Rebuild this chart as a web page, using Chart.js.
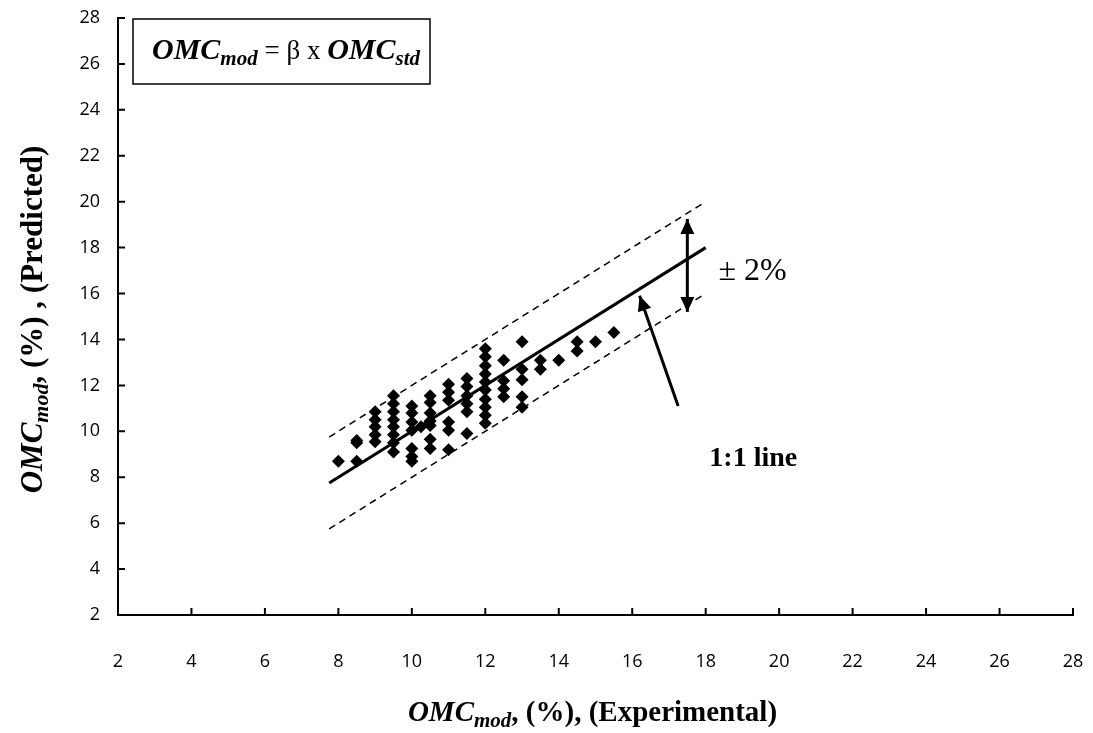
<!DOCTYPE html>
<html>
<head>
<meta charset="utf-8">
<script src="https://cdn.jsdelivr.net/npm/chart.js@4"></script>
<style>
  body { margin: 0; background: #fff; }
  canvas { display: block; }
</style>
</head>
<body>
<canvas id="omc_chart" width="1093" height="733"></canvas>
<script>
// axis ticks
const tickValues = [2, 4, 6, 8, 10, 12, 14, 16, 18, 20, 22, 24, 26, 28];

// experimental OMC values (one entry per column of points)
const columnX = [8, 8.5, 9, 9.5, 10, 10.25, 10.5, 11, 11.5, 12, 12.5, 13, 13.5, 14, 14.5, 15, 15.5];
// predicted OMC values for each column
const columnY = [
    [8.7],
    [9.6, 9.5, 8.7],
    [10.85, 10.5, 10.2, 9.85, 9.55],
    [11.55, 11.2, 10.85, 10.5, 10.2, 9.85, 9.5, 9.1],
    [11.1, 10.8, 10.4, 10.05, 9.25, 8.9, 8.7],
    [10.2],
    [11.55, 11.25, 10.8, 10.45, 10.25, 9.65, 9.25],
    [12.05, 11.7, 11.35, 10.4, 10.05, 9.2],
    [12.3, 11.95, 11.55, 11.2, 10.85, 9.9],
    [13.6, 13.25, 12.85, 12.5, 12.15, 11.8, 11.4, 11.05, 10.7, 10.35],
    [13.1, 12.2, 11.85, 11.5],
    [13.9, 12.7, 12.25, 11.5, 11.05],
    [13.1, 12.7],
    [13.1],
    [13.9, 13.5],
    [13.9],
    [14.3],
];

// 1:1 line and +/- 2% band
const lineX = [7.75, 18];
const oneToOneY = [7.75, 18];
const upperBandY = [9.75, 20];
const lowerBandY = [5.75, 16];

// annotation arrows (data units)
const bandArrowX = [17.5, 17.5];
const bandArrowY = [15.2, 19.25];
const lineArrowX = [17.25, 16.2];
const lineArrowY = [11.1, 15.9];

const points = [];
columnX.forEach((x, i) => {
    columnY[i].forEach((y) => points.push({ x: x, y: y }));
});
const toXY = (xs, ys) => xs.map((x, i) => ({ x: x, y: ys[i] }));

const serif = '"Liberation Serif", "Times New Roman", serif';
const sans = '"Open Sans", "Liberation Sans", sans-serif';

// draws text made of several parts (different fonts / subscripts)
function drawRich(ctx, parts, x, y, align) {
    let total = 0;
    parts.forEach((p) => {
        ctx.font = p.font;
        p.w = ctx.measureText(p.text).width;
        total += p.w;
    });
    let cx = align === "center" ? x - total / 2 : x;
    ctx.textAlign = "left";
    ctx.textBaseline = "alphabetic";
    parts.forEach((p) => {
        ctx.font = p.font;
        ctx.fillText(p.text, cx, y + (p.dy || 0));
        cx += p.w;
    });
}

function drawArrowHead(ctx, fx, fy, tx, ty, len, half) {
    const a = Math.atan2(ty - fy, tx - fx);
    ctx.beginPath();
    ctx.moveTo(tx, ty);
    ctx.lineTo(tx - len * Math.cos(a) + half * Math.sin(a), ty - len * Math.sin(a) - half * Math.cos(a));
    ctx.lineTo(tx - len * Math.cos(a) - half * Math.sin(a), ty - len * Math.sin(a) + half * Math.cos(a));
    ctx.closePath();
    ctx.fill();
}

function drawArrow(ctx, x1, y1, x2, y2, both) {
    ctx.beginPath();
    ctx.moveTo(x1, y1);
    ctx.lineTo(x2, y2);
    ctx.stroke();
    drawArrowHead(ctx, x1, y1, x2, y2, 15, 7);
    if (both) drawArrowHead(ctx, x2, y2, x1, y1, 15, 7);
}

const decorations = {
    id: "decorations",
    afterDatasetsDraw(chart) {
        const ctx = chart.ctx;
        const xs = chart.scales.x;
        const ys = chart.scales.y;
        const area = chart.chartArea;
        ctx.save();
        ctx.fillStyle = "#000";
        ctx.strokeStyle = "#000";

        // inside tick marks
        ctx.lineWidth = 2;
        ctx.beginPath();
        xs.ticks.forEach((t) => {
            const px = xs.getPixelForValue(t.value);
            ctx.moveTo(px, area.bottom);
            ctx.lineTo(px, area.bottom - 7);
        });
        ys.ticks.forEach((t) => {
            const py = ys.getPixelForValue(t.value);
            ctx.moveTo(area.left, py);
            ctx.lineTo(area.left + 7, py);
        });
        ctx.stroke();

        // arrows
        ctx.lineWidth = 3;
        drawArrow(ctx,
            xs.getPixelForValue(bandArrowX[0]), ys.getPixelForValue(bandArrowY[0]),
            xs.getPixelForValue(bandArrowX[1]), ys.getPixelForValue(bandArrowY[1]), true);
        drawArrow(ctx,
            xs.getPixelForValue(lineArrowX[0]), ys.getPixelForValue(lineArrowY[0]),
            xs.getPixelForValue(lineArrowX[1]), ys.getPixelForValue(lineArrowY[1]), false);

        // labels
        drawRich(ctx, [{ text: "\u00b1 2%", font: "32px " + serif }],
            xs.getPixelForValue(18.35), ys.getPixelForValue(16.6), "left");
        drawRich(ctx, [{ text: "1:1 line", font: "bold 28px " + serif }],
            xs.getPixelForValue(18.1), ys.getPixelForValue(8.5), "left");

        // equation box
        ctx.lineWidth = 1.5;
        ctx.strokeRect(area.left + 15, area.top + 1, 297, 65);
        drawRich(ctx, [
            { text: "OMC", font: "italic bold 30px " + serif },
            { text: "mod", font: "italic bold 21px " + serif, dy: 6 },
            { text: " = \u03b2 x ", font: "27px " + serif },
            { text: "OMC", font: "italic bold 30px " + serif },
            { text: "std", font: "italic bold 21px " + serif, dy: 6 },
        ], area.left + 34, area.top + 41, "left");

        // axis titles
        const cxMid = (area.left + area.right) / 2;
        drawRich(ctx, [
            { text: "OMC", font: "italic bold 29px " + serif },
            { text: "mod", font: "italic bold 21px " + serif, dy: 6 },
            { text: ", (%), (Experimental)", font: "bold 29px " + serif },
        ], cxMid - 3, 721, "center");

        ctx.translate(42, (area.top + area.bottom) / 2 + 3);
        ctx.rotate(-Math.PI / 2);
        drawRich(ctx, [
            { text: "OMC", font: "italic bold 31px " + serif },
            { text: "mod", font: "italic bold 22px " + serif, dy: 6 },
            { text: ", (%) , (Predicted)", font: "bold 31px " + serif },
        ], 0, 0, "center");
        ctx.restore();
    },
};

const ctxOmc = document.getElementById("omc_chart").getContext("2d");

new Chart(ctxOmc, {
    type: "scatter",
    data: {
        datasets: [
            {
                label: "Data",
                data: points,
                pointStyle: "rectRot",
                pointRadius: 6.5,
                backgroundColor: "#000",
                borderColor: "#000",
                borderWidth: 0,
            },
            {
                label: "1:1 line",
                data: toXY(lineX, oneToOneY),
                showLine: true,
                borderColor: "#000",
                borderWidth: 3,
                pointRadius: 0,
            },
            {
                label: "+2%",
                data: toXY(lineX, upperBandY),
                showLine: true,
                borderColor: "#000",
                borderWidth: 1.5,
                borderDash: [7, 5],
                pointRadius: 0,
            },
            {
                label: "-2%",
                data: toXY(lineX, lowerBandY),
                showLine: true,
                borderColor: "#000",
                borderWidth: 1.5,
                borderDash: [7, 5],
                pointRadius: 0,
            },
        ],
    },
    options: {
        responsive: false,
        animation: false,
        layout: { padding: { top: 18, right: 20, left: 0, bottom: 0 } },
        plugins: {
            legend: { display: false },
            tooltip: { enabled: false },
        },
        scales: {
            x: {
                type: "linear",
                min: 2,
                max: 28,
                afterBuildTicks: (scale) => {
                    scale.ticks = tickValues.map((v) => ({ value: v }));
                },
                ticks: {
                    color: "#000",
                    font: { family: sans, size: 18 },
                    padding: 36,
                },
                grid: { drawOnChartArea: false, drawTicks: false },
                border: { color: "#000", width: 2 },
                afterFit: (scale) => {
                    scale.height = 118;
                    scale.paddingLeft = 0;
                    scale.paddingRight = 0;
                },
            },
            y: {
                type: "linear",
                min: 2,
                max: 28,
                afterBuildTicks: (scale) => {
                    scale.ticks = tickValues.map((v) => ({ value: v }));
                },
                ticks: {
                    color: "#000",
                    font: { family: sans, size: 18 },
                    padding: 18,
                },
                grid: { drawOnChartArea: false, drawTicks: false },
                border: { color: "#000", width: 2 },
                afterFit: (scale) => {
                    scale.width = 118;
                    scale.paddingTop = 0;
                    scale.paddingBottom = 0;
                },
            },
        },
    },
    plugins: [decorations],
});
</script>
</body>
</html>
